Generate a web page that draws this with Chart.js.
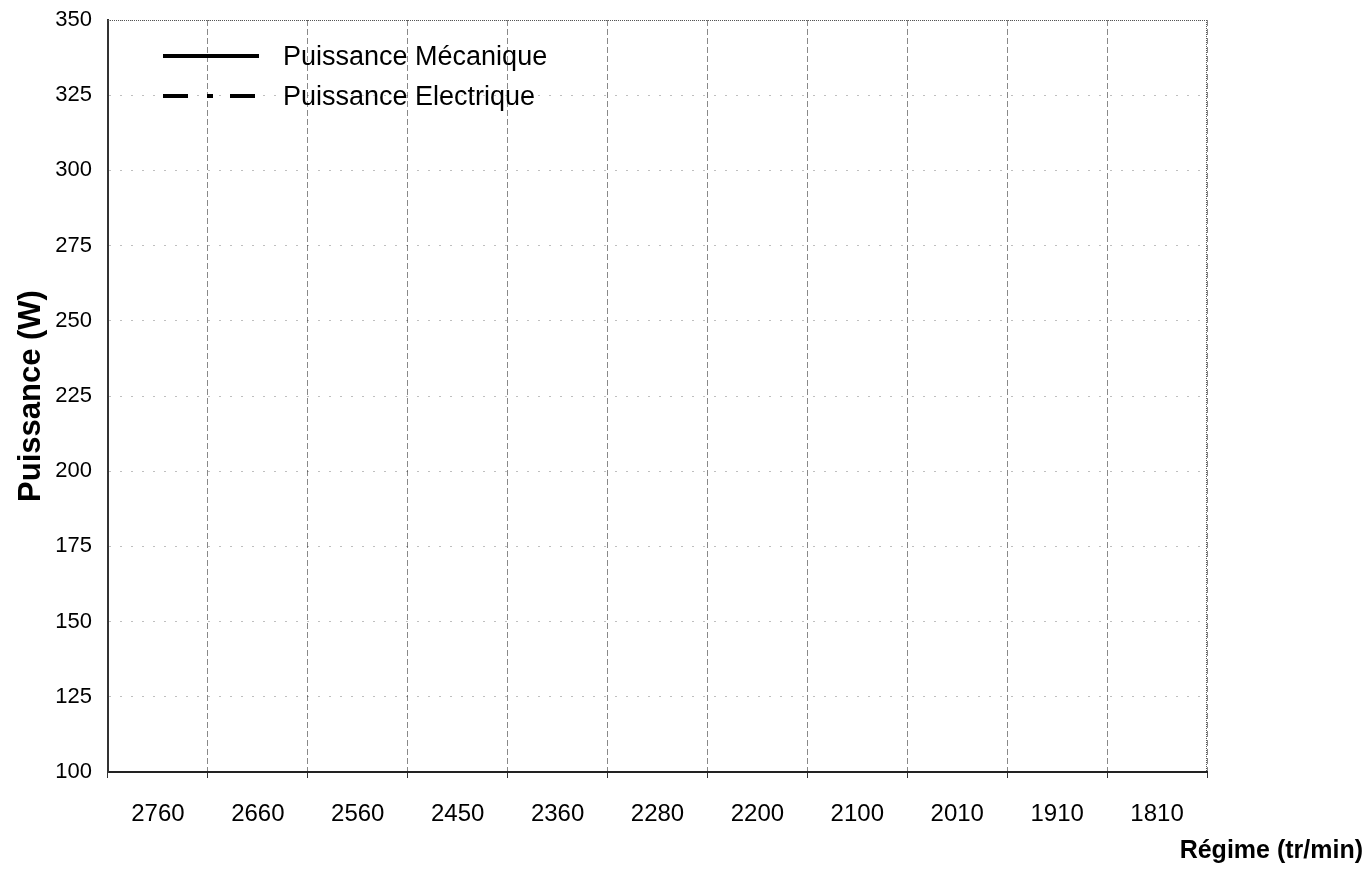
<!DOCTYPE html>
<html>
<head>
<meta charset="utf-8">
<script src="https://cdn.jsdelivr.net/npm/chart.js@4"></script>
<style>
  html, body { margin: 0; padding: 0; background: #ffffff; }
  #wrap { width: 1364px; height: 872px; position: relative; }
</style>
</head>
<body>
<div id="wrap"><canvas id="c" width="1364" height="872"></canvas></div>
<script>
// ---- data ----
const categories = ['2760', '2660', '2560', '2450', '2360', '2280', '2200', '2100', '2010', '1910', '1810'];
const puissanceMecanique = [null, null, null, null, null, null, null, null, null, null, null];
const puissanceElectrique = [null, null, null, null, null, null, null, null, null, null, null];
const seriesLabels = ['Puissance Mécanique', 'Puissance Electrique'];
const yMin = 100;
const yMax = 350;
const yStep = 25;
const xTitle = 'Régime (tr/min)';
const yTitle = 'Puissance (W)';

const FONT = '"Liberation Sans", Arial, sans-serif';

const frameAndLegend = {
  id: 'frameAndLegend',
  afterDraw(chart) {
    const ctx = chart.ctx;
    const a = chart.chartArea;
    ctx.save();
    ctx.strokeStyle = '#555';
    ctx.lineWidth = 1;
    ctx.setLineDash([1, 1]);
    ctx.beginPath();
    ctx.moveTo(a.left, a.top + 0.5);
    ctx.lineTo(a.right, a.top + 0.5);
    ctx.moveTo(a.right - 0.5, a.top);
    ctx.lineTo(a.right - 0.5, a.bottom);
    ctx.stroke();
    ctx.restore();

    const ys = [56, 96];
    chart.data.datasets.forEach((ds, i) => {
      const y = ys[i];
      ctx.save();
      ctx.strokeStyle = '#000';
      ctx.lineWidth = 4;
      ctx.lineCap = 'butt';
      ctx.setLineDash(ds.legendDash || []);
      ctx.beginPath();
      ctx.moveTo(163, y);
      ctx.lineTo(259, y);
      ctx.stroke();
      ctx.setLineDash([]);
      ctx.fillStyle = '#000';
      ctx.font = '27px ' + FONT;
      ctx.textBaseline = 'middle';
      ctx.textAlign = 'left';
      ctx.fillText(ds.label, 283, y + 2);
      ctx.restore();
    });

    ctx.save();
    ctx.fillStyle = '#000';
    ctx.font = 'bold 25px ' + FONT;
    ctx.textAlign = 'right';
    ctx.textBaseline = 'middle';
    ctx.fillText(xTitle, 1363, 851);
    ctx.restore();
  }
};

new Chart(document.getElementById('c'), {
  type: 'line',
  data: {
    labels: categories,
    datasets: [
      {
        label: seriesLabels[0],
        data: puissanceMecanique,
        borderColor: '#000',
        borderWidth: 4,
        pointRadius: 0,
        legendDash: []
      },
      {
        label: seriesLabels[1],
        data: puissanceElectrique,
        borderColor: '#000',
        borderWidth: 4,
        borderDash: [25, 19, 6, 17],
        pointRadius: 0,
        legendDash: [25, 19, 6, 17]
      }
    ]
  },
  options: {
    responsive: false,
    animation: false,
    layout: { padding: { left: 0, right: 157, top: 20, bottom: 0 } },
    plugins: {
      legend: { display: false },
      tooltip: { enabled: false },
      title: { display: false }
    },
    scales: {
      x: {
        type: 'category',
        offset: true,
        afterFit(scale) { scale.height = 100; },
        grid: {
          offset: true,
          drawOnChartArea: true,
          color: 'rgba(40,40,40,0.55)',
          tickColor: '#333',
          tickLength: 6,
          lineWidth: 1
        },
        border: { display: true, color: '#222', width: 2, dash: [6, 3] },
        ticks: {
          color: '#000',
          font: { family: FONT, size: 24 },
          padding: 22,
          maxRotation: 0,
          autoSkip: false
        }
      },
      y: {
        min: yMin,
        max: yMax,
        afterFit(scale) {
          scale.width = 108;
          scale.paddingTop = 0;
          scale.paddingBottom = 0;
        },
        grid: {
          color: 'rgba(0,0,0,0.25)',
          drawTicks: false,
          lineWidth: 1
        },
        border: { display: true, color: '#333', width: 2, dash: [2, 9] },
        ticks: {
          stepSize: yStep,
          color: '#000',
          font: { family: FONT, size: 22 },
          padding: 16
        },
        title: {
          display: true,
          text: yTitle,
          color: '#000',
          font: { family: FONT, size: 31, weight: 'bold' },
          padding: { top: 13, bottom: 0 }
        }
      }
    }
  },
  plugins: [frameAndLegend]
});
</script>
</body>
</html>
